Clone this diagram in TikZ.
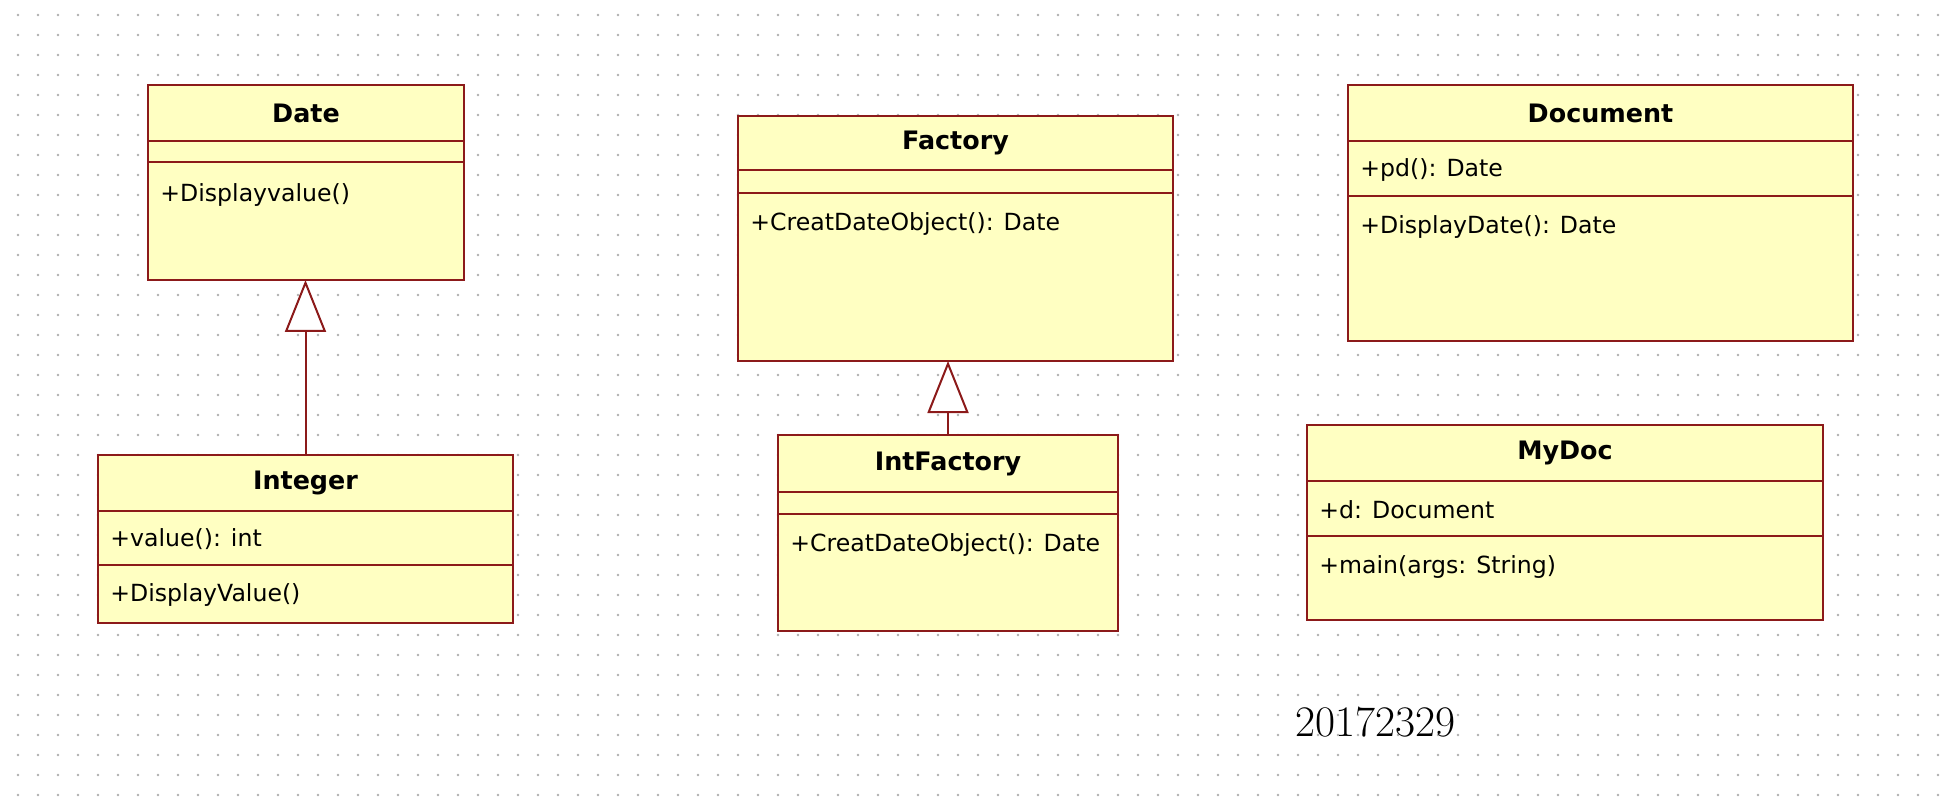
\documentclass[tikz,border=0pt]{standalone}
\usepackage{fontspec}
\newfontfamily\umlfont{DejaVu Sans}
\usepackage{tikz}
\usetikzlibrary{arrows.meta,positioning,calc}
\definecolor{classfill}{RGB}{255,255,194}
\definecolor{classline}{RGB}{140,26,26}
\definecolor{griddot}{RGB}{175,175,175}

\begin{document}
\begin{tikzpicture}[x=0.5pt, y=-0.5pt,
  font=\umlfont\fontsize{11.8pt}{14pt}\selectfont,
  compart/.style={rectangle, draw=classline, fill=classfill, line width=1pt,
                  inner sep=0pt, outer sep=0pt},
  classhead/.style={compart, anchor=north west,
                    font=\umlfont\bfseries\fontsize{12.7pt}{15pt}\selectfont},
  member/.style={anchor=west, inner sep=0pt},
  inherit/.style={draw=classline, line width=1pt,
                  -{Triangle[fill=white, length=26pt, width=20.5pt]}}]
  % sheet and dot grid
  \fill[white] (0,0) rectangle (1953,807);
  \useasboundingbox (0,0) rectangle (1953,807);
  \foreach \i in {0,...,96}
    \foreach \j in {0,...,39}
      \fill[griddot] (18+20*\i, 15+20*\j) circle (0.65pt);

  % Date
  \node[classhead, minimum width=158pt, minimum height=28pt] (date) at (148,85) {Date};
  \node[compart, minimum width=158pt, minimum height=10.5pt, below=0pt of date] (dateatt) {};
  \node[compart, minimum width=158pt, minimum height=59pt, below=0pt of dateatt] (dateops) {};
  \node[member] (dateop) at ($(dateops.north west)+(12,33)$) {+Displayvalue()};

  % Integer
  \node[classhead, minimum width=207.5pt, minimum height=28pt] (integer) at (98,455) {Integer};
  \node[compart, minimum width=207.5pt, minimum height=27pt, below=0pt of integer] (integeratt) {};
  \node[compart, minimum width=207.5pt, minimum height=29pt, below=0pt of integeratt] (integerops) {};
  \node[member] (integera) at ($(integeratt.west)+(12,1)$) {+value(): int};
  \node[member] (integerop) at ($(integerops.west)+(12,1)$) {+DisplayValue()};

  % Factory
  \node[classhead, minimum width=217.5pt, minimum height=27pt] (factory) at (738,116) {Factory};
  \node[compart, minimum width=217.5pt, minimum height=11.5pt, below=0pt of factory] (factoryatt) {};
  \node[compart, minimum width=217.5pt, minimum height=84pt, below=0pt of factoryatt] (factoryops) {};
  \node[member] (factoryop) at ($(factoryops.north west)+(12,31)$) {+CreatDateObject(): Date};

  % IntFactory
  \node[classhead, minimum width=170pt, minimum height=28.5pt] (intfactory) at (778,435) {IntFactory};
  \node[compart, minimum width=170pt, minimum height=11pt, below=0pt of intfactory] (intfactoryatt) {};
  \node[compart, minimum width=170pt, minimum height=58.5pt, below=0pt of intfactoryatt] (intfactoryops) {};
  \node[member] (intfactoryop) at ($(intfactoryops.north west)+(12,31)$) {+CreatDateObject(): Date};

  % Document
  \node[classhead, minimum width=252.5pt, minimum height=28pt] (document) at (1348,85) {Document};
  \node[compart, minimum width=252.5pt, minimum height=27.5pt, below=0pt of document] (documentatt) {};
  \node[compart, minimum width=252.5pt, minimum height=72.5pt, below=0pt of documentatt] (documentops) {};
  \node[member] (documenta) at ($(documentatt.west)+(12,1)$) {+pd(): Date};
  \node[member] (documentop) at ($(documentops.north west)+(12,31)$) {+DisplayDate(): Date};

  % MyDoc
  \node[classhead, minimum width=258pt, minimum height=28pt] (mydoc) at (1307,425) {MyDoc};
  \node[compart, minimum width=258pt, minimum height=27.5pt, below=0pt of mydoc] (mydocatt) {};
  \node[compart, minimum width=258pt, minimum height=42pt, below=0pt of mydocatt] (mydocops) {};
  \node[member] (mydoca) at ($(mydocatt.west)+(12,1)$) {+d: Document};
  \node[member] (mydocop) at ($(mydocops.north west)+(12,31)$) {+main(args: String)};

  % student number
  \node[anchor=west, inner sep=0pt, font=\fontsize{21.8pt}{26pt}\selectfont] (stuno) at (1295,722) {20172329};

  % generalisations
  \draw[inherit] (integer.north) -- (integer.north |- dateops.south);
  \draw[inherit] (intfactory.north) -- (intfactory.north |- factoryops.south);
\end{tikzpicture}
\end{document}
